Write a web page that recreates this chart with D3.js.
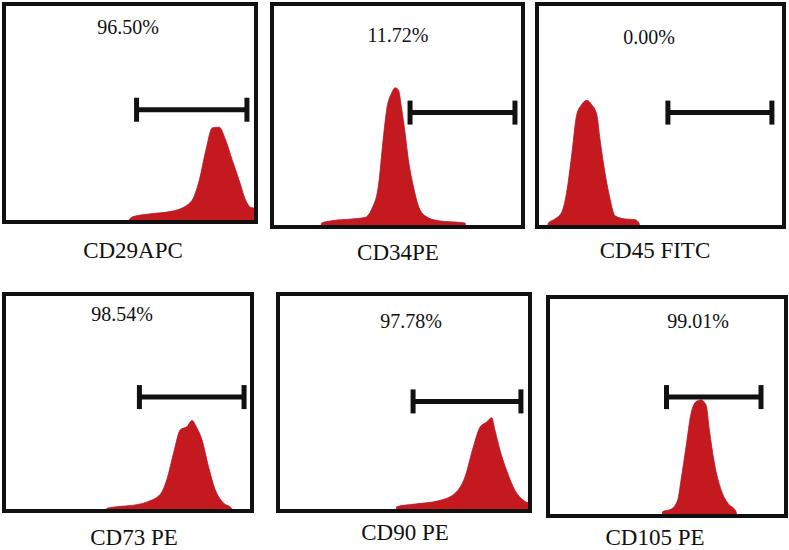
<!DOCTYPE html>
<html>
<head>
<meta charset="utf-8">
<script src="https://cdn.jsdelivr.net/npm/d3@7"></script>
<style>
  html, body { margin: 0; padding: 0; background: #fff; }
  svg { display: block; }
  text { font-family: "Liberation Serif", "Tinos", "Nimbus Roman", "Nimbus Roman No9 L", "FreeSerif", "Noto Serif", "DejaVu Serif", "Times New Roman", Times, serif; fill: #111; }
</style>
</head>
<body>
<svg id="chart" width="789" height="550"></svg>
<script>
// ---- Data ----
// x: relative fluorescence channel (0-100 of the panel axis), y: relative cell count (0-100)
const markers = ["CD29APC", "CD34PE", "CD45 FITC", "CD73 PE", "CD90 PE", "CD105 PE"];
const positiveLabels = ["96.50%", "11.72%", "0.00%", "98.54%", "97.78%", "99.01%"];
const gateStart = [52.6, 55.0, 53.0, 54.6, 53.6, 49.8];
const gateEnd = [96.4, 96.8, 95.1, 96.8, 96.4, 89.5];
const gateLevel = [51.5, 51.3, 51.3, 52.5, 50.5, 54.3];

const histCD29 = [[49.5,0],[49.6,0.9],[51.1,2.4],[57.7,3.7],[66.9,5.0],[74.2,9.3],[77.5,19.2],[80.1,32.9],[82.7,43.2],[85.4,43.5],[88.0,37.4],[90.6,28.3],[93.3,19.2],[95.9,10.0],[97.9,6.7],[100,6.3]];
const histCD34 = [[19.5,0],[19.8,1.8],[23.8,2.8],[31.8,3.6],[37.1,4.3],[39.7,8.0],[42.4,18.4],[44.3,39.3],[45.7,52.7],[47.7,60.1],[49.0,62.4],[50.3,61.6],[51.7,52.7],[53.0,42.3],[54.3,30.4],[56.3,18.4],[58.3,9.5],[61.0,5.0],[66.3,2.8],[76.9,1.8],[77.2,0]];
const histCD45 = [[4.3,0],[4.6,1.8],[7.3,3.6],[10.0,6.6],[12.0,15.5],[14.0,31.8],[16.1,50.4],[18.1,54.9],[20.1,56.8],[22.1,54.9],[24.2,50.4],[25.5,39.3],[27.5,24.4],[29.6,12.5],[31.6,5.0],[35.6,3.6],[39.7,3.3],[41.3,1.8],[41.6,0]];
const histCD73 = [[41.2,0],[41.4,1.2],[45.7,2.0],[52.3,2.7],[57.7,4.2],[63.1,7.8],[65.7,14.6],[68.4,26.8],[71.1,37.4],[73.8,38.9],[75.8,41.7],[77.8,38.2],[79.8,32.9],[82.4,20.7],[85.1,10.0],[88.5,3.7],[91.8,1.2],[92.0,0]];
const histCD90 = [[46.9,0],[47.1,2.0],[54.4,3.2],[63.6,4.7],[70.2,8.1],[74.2,15.7],[77.5,29.5],[80.2,38.7],[82.8,41.0],[84.8,43.0],[86.1,37.2],[88.1,28.0],[90.7,18.8],[94.0,9.6],[97.3,5.0],[100,3.5]];
const histCD105 = [[48.0,0],[48.2,2.0],[51.7,3.1],[54.5,7.3],[55.9,16.4],[58.0,31.6],[60.1,46.8],[62.2,52.2],[64.3,53.0],[66.4,50.7],[67.8,39.3],[69.9,24.2],[72.7,12.0],[75.5,5.9],[79.0,2.0],[79.3,0]];
const histograms = [histCD29, histCD34, histCD45, histCD73, histCD90, histCD105];

// ---- Layout (pixel boxes of each panel and text anchors) ----
const layout = [
  {l: 4,   r: 256, t: 4,   b: 222, px: 128, py: 34,  lx: 133, ly: 258},
  {l: 272, r: 523, t: 4,   b: 227, px: 398, py: 42,  lx: 398, ly: 260},
  {l: 537, r: 784, t: 4,   b: 227, px: 649, py: 44,  lx: 655, ly: 258},
  {l: 4,   r: 252, t: 294, b: 511, px: 122, py: 321, lx: 134, ly: 545},
  {l: 278, r: 530, t: 294, b: 511, px: 411, py: 328, lx: 405, ly: 540},
  {l: 548, r: 786, t: 297, b: 516, px: 698, py: 328, lx: 655, ly: 545}
];

const svg = d3.select("#chart");
const fillRed = "#c3191f";

markers.forEach((name, i) => {
  const L = layout[i];
  const x = d3.scaleLinear().domain([0, 100]).range([L.l, L.r]);
  const y = d3.scaleLinear().domain([0, 100]).range([L.b, L.t]);
  const g = svg.append("g").attr("class", "panel");

  const clipId = "clip" + i;
  g.append("clipPath").attr("id", clipId)
    .append("rect").attr("x", L.l).attr("y", L.t)
    .attr("width", L.r - L.l).attr("height", L.b - L.t);

  const area = d3.area()
    .x(d => x(d[0]))
    .y0(y(0))
    .y1(d => y(d[1]))
    .curve(d3.curveMonotoneX);

  g.append("path")
    .datum(histograms[i])
    .attr("clip-path", `url(#${clipId})`)
    .attr("d", area)
    .attr("fill", fillRed)
    .attr("stroke", "#b0182a")
    .attr("stroke-width", 0.8);

  // frame
  g.append("rect")
    .attr("x", L.l).attr("y", L.t)
    .attr("width", L.r - L.l).attr("height", L.b - L.t)
    .attr("fill", "none")
    .attr("stroke", "#111")
    .attr("stroke-width", 4);

  // gate marker
  const gy = y(gateLevel[i]);
  const gx0 = x(gateStart[i]), gx1 = x(gateEnd[i]);
  g.append("line").attr("x1", gx0).attr("x2", gx1).attr("y1", gy).attr("y2", gy)
    .attr("stroke", "#111").attr("stroke-width", 5);
  [gx0, gx1].forEach(gx => {
    g.append("line").attr("x1", gx).attr("x2", gx).attr("y1", gy - 12).attr("y2", gy + 12)
      .attr("stroke", "#111").attr("stroke-width", 5);
  });

  // percentage
  g.append("text")
    .attr("x", L.px).attr("y", L.py)
    .attr("text-anchor", "middle")
    .style("font-size", "20px")
    .style("font-weight", "500")
    .text(positiveLabels[i]);

  // marker label
  g.append("text")
    .attr("x", L.lx).attr("y", L.ly)
    .attr("text-anchor", "middle")
    .style("font-size", "23px")
    .text(name);
});
</script>
</body>
</html>
